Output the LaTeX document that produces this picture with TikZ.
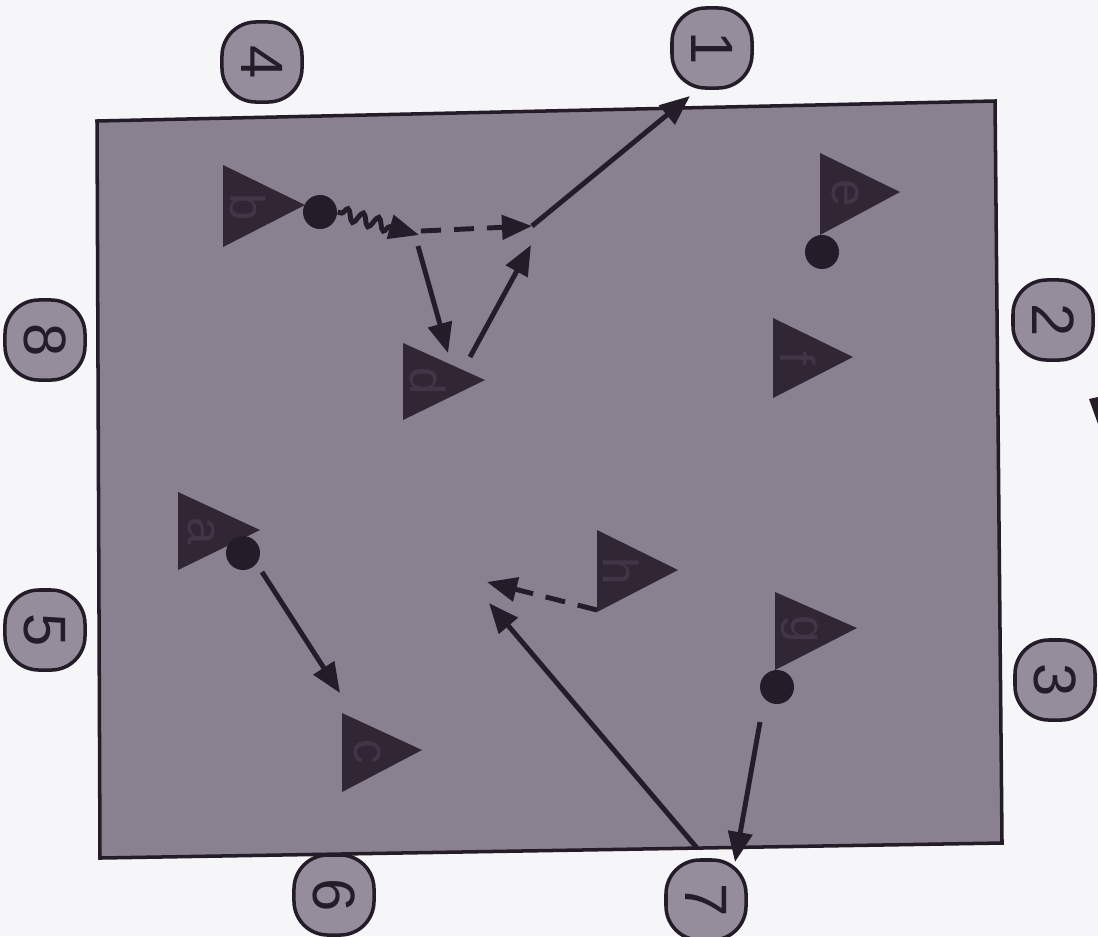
\documentclass[tikz,border=0pt]{standalone}
\usepackage{fontspec}
\setmainfont{Liberation Sans}
\usetikzlibrary{arrows.meta,decorations.pathmorphing}
\definecolor{paper}{RGB}{246,245,247}
\definecolor{field}{RGB}{138,129,144}
\definecolor{blobfill}{RGB}{150,141,156}
\definecolor{ink}{RGB}{36,28,40}
\definecolor{tri}{RGB}{48,38,52}
\definecolor{letter}{RGB}{64,54,70}
\begin{document}
\begin{tikzpicture}[x=0.01cm,y=-0.01cm,
  blob/.style={draw=ink, line width=1pt, fill=blobfill, rounded corners=0.34cm,
    minimum width=0.8cm, minimum height=0.8cm, inner sep=0pt,
    font=\fontsize{17}{17}\selectfont, text=ink, rotate=-90},
  dot/.style={circle, fill=ink, minimum size=0.34cm, inner sep=0pt},
  tag/.style={font=\fontsize{14}{14}\selectfont, text=letter, rotate=-90, inner sep=0pt},
  pass/.style={draw=ink, line width=1.4pt, -{Triangle[length=0.3cm,width=0.24cm]}},
  dashpass/.style={pass, dash pattern=on 0.2cm off 0.13cm},
  playerfill/.style={fill=tri}
]
\useasboundingbox (0,0) rectangle (1098,936);
\fill[paper] (0,0) rectangle (1098,936);

% field
\filldraw[draw=ink, fill=field, line width=1pt]
  (97,121) -- (995,101) -- (1002,843) -- (100,858) -- cycle;

% numbered blobs
\node[blob] (n1) at (712,48) {1};
\node[blob] (n2) at (1053,320) {2};
\node[blob] (n3) at (1055,680) {3};
\node[blob] (n4) at (262,62) {4};
\node[blob] (n5) at (45,630) {5};
\node[blob] (n6) at (334,895) {6};
\node[blob] (n7) at (706,900) {7};
\node[blob] (n8) at (45,340) {8};

% players (triangles)
\fill[playerfill] (223,165) -- (223,247) -- (305,205) -- cycle;
\fill[playerfill] (403,343) -- (403,420) -- (485,380) -- cycle;
\fill[playerfill] (820,153) -- (820,235) -- (900,192) -- cycle;
\fill[playerfill] (773,318) -- (773,398) -- (853,357) -- cycle;
\fill[playerfill] (178,492) -- (178,570) -- (260,530) -- cycle;
\fill[playerfill] (342,713) -- (342,792) -- (422,750) -- cycle;
\fill[playerfill] (597,530) -- (597,612) -- (678,570) -- cycle;
\fill[playerfill] (775,592) -- (775,670) -- (857,628) -- cycle;

\node[tag] (lb) at (248,207) {b};
\node[tag] (ld) at (428,381) {d};
\node[tag] (le) at (845,193) {e};
\node[tag] (lf) at (798,358) {f};
\node[tag] (la) at (202,531) {a};
\node[tag] (lc) at (367,752) {c};
\node[tag] (lh) at (621,571) {h};
\node[tag] (lg) at (800,629) {g};

% balls
\node[dot] (bb) at (320,212) {};
\node[dot] (be) at (822,252) {};
\node[dot] (ba) at (243,553) {};
\node[dot] (bg) at (777,687) {};

% stray mark at right edge
\fill[ink] (1089,399) -- (1098,397) -- (1098,424) -- cycle;

% connector points
\coordinate (w1) at (419,235);
\coordinate (w1s) at (421,231);
\coordinate (w2) at (532,226);
\coordinate (t1) at (690,96);
\coordinate (s1) at (418,246);
\coordinate (td) at (448,353);
\coordinate (sd) at (470,357);
\coordinate (tw) at (531,245);
\coordinate (sa) at (262,572);
\coordinate (tc) at (340,693);
\coordinate (sh) at (597,610);
\coordinate (th) at (487,582);
\coordinate (s7) at (697,848);
\coordinate (t7) at (489,603);
\coordinate (sg) at (760,722);
\coordinate (tg) at (735,862);

% passes and runs
\draw[pass, decorate, decoration={snake, amplitude=0.06cm, segment length=0.16cm,
  pre length=0.04cm, post length=0.3cm}] (bb.east) -- (w1);
\draw[dashpass] (w1s) -- (w2);
\draw[pass] (w2) -- (t1);
\draw[pass] (s1) -- (td);
\draw[pass] (sd) -- (tw);
\draw[pass] (sa) -- (tc);
\draw[dashpass] (sh) -- (th);
\draw[pass] (s7) -- (t7);
\draw[pass] (sg) -- (tg);
\end{tikzpicture}
\end{document}
